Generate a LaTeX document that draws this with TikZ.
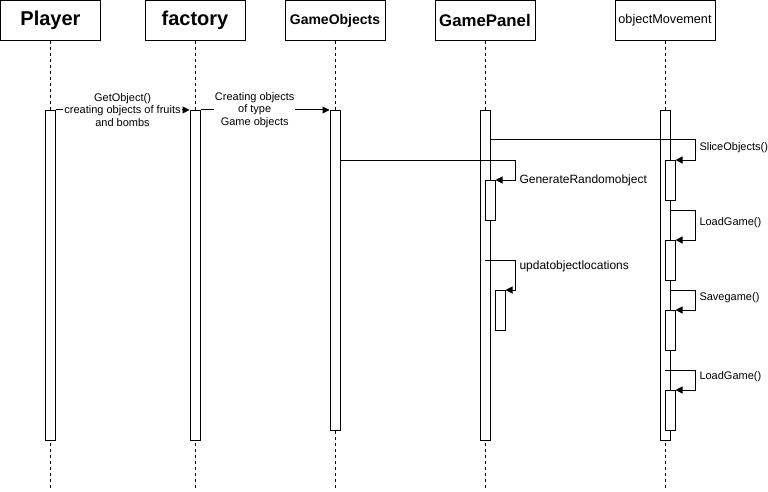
\documentclass[tikz,border=0pt]{standalone}
\usepackage{fontspec}
\setmainfont{Liberation Sans}
\usetikzlibrary{arrows.meta}
\begin{document}
\begin{tikzpicture}[x=1pt,y=-1pt,line width=1pt,
  head/.style={draw,fill=white,minimum width=100pt,minimum height=40pt,inner sep=0pt},
  life/.style={dash pattern=on 3pt off 3pt,line width=1pt},
  bar/.style={draw,fill=white,minimum width=10pt,inner sep=0pt,anchor=north},
  msg/.style={-{Triangle[length=7pt,width=7pt]}},
  lbl/.style={font=\fontsize{11}{12.5}\selectfont,align=center,fill=white,inner sep=1pt},
  slbl/.style={font=\fontsize{11}{13}\selectfont,anchor=west,inner sep=0pt},
  blbl/.style={font=\fontsize{12}{14}\selectfont,anchor=west,inner sep=0pt}]
\useasboundingbox (0,0) rectangle (768,492);
% headers
\node[head,font=\bfseries\fontsize{20}{24}\selectfont] (player) at (50.5,20.5) {Player};
\node[head,font=\bfseries\fontsize{20}{24}\selectfont] (factory) at (195,20.5) {factory};
\node[head,font=\bfseries\fontsize{14}{16}\selectfont] (gameobjects) at (335,20.5) {GameObjects};
\node[head,font=\bfseries\fontsize{16.8}{19}\selectfont] (gamepanel) at (485,20.5) {GamePanel};
\node[head,font=\fontsize{12.7}{15}\selectfont] (objmov) at (665,20.5) {objectMovement};
% lifeline ends
\coordinate (pe) at (50,490);
\coordinate (fe) at (195,490);
\coordinate (goe) at (335,490);
\coordinate (gpe) at (485,490);
\coordinate (ome) at (665,490);
\draw[life] (player.south -| pe) -- (pe);
\draw[life] (factory.south) -- (fe);
\draw[life] (gameobjects.south) -- (goe);
\draw[life] (gamepanel.south) -- (gpe);
\draw[life] (objmov.south) -- (ome);
% activation bars
\node[bar,minimum height=330pt] (pbar) at (50,110) {};
\node[bar,minimum height=330pt] (fbar) at (195,110) {};
\node[bar,minimum height=320pt] (gobar) at (335,110) {};
\node[bar,minimum height=330pt] (gpbar) at (485,110) {};
\node[bar,minimum height=330pt] (ombar) at (665,110) {};
\node[bar,minimum height=40pt] (gp1) at (490,180) {};
\node[bar,minimum height=40pt] (gp2) at (500,290) {};
\node[bar,minimum height=40pt] (om1) at (670,160) {};
\node[bar,minimum height=40pt] (om2) at (670,240) {};
\node[bar,minimum height=40pt] (om3) at (670,310) {};
\node[bar,minimum height=40pt] (om4) at (670,390) {};
% messages
\draw[msg] (pbar.north east) -- (fbar.north west)
  node[lbl,midway] (m1) {GetObject()\\creating objects of fruits\\and bombs};
\draw[msg] (fbar.north east) -- (gobar.north west)
  node[lbl,pos=0.42] (m2) {Creating objects\\of type\\Game objects};
\coordinate (c1) at (695,140);
\draw[msg] (c1 -| gpbar.east) -- (c1) |- (om1.north east);
\node[slbl] (l1) at (699,148) {SliceObjects()};
\coordinate (c2) at (515,160);
\draw[msg] (c2 -| gobar.east) -- (c2) |- (gp1.north east);
\node[blbl] (l2) at (519,180) {GenerateRandomobject};
\coordinate (c3) at (695,210);
\draw[msg] (c3 -| ombar.east) -- (c3) |- (om2.north east);
\node[slbl] (l3) at (699,223) {LoadGame()};
\coordinate (c4) at (515,260);
\draw[msg] (c4 -| gpbar.center) -- (c4) |- (gp2.north east);
\node[blbl] (l4) at (519,266) {updatobjectlocations};
\coordinate (c5) at (695,290);
\draw[msg] (c5 -| ombar.east) -- (c5) |- (om3.north east);
\node[slbl] (l5) at (699,298) {Savegame()};
\coordinate (c6) at (695,370);
\draw[msg] (c6 -| ombar.center) -- (c6) |- (om4.north east);
\node[slbl] (l6) at (699,377) {LoadGame()};
\end{tikzpicture}
\end{document}
